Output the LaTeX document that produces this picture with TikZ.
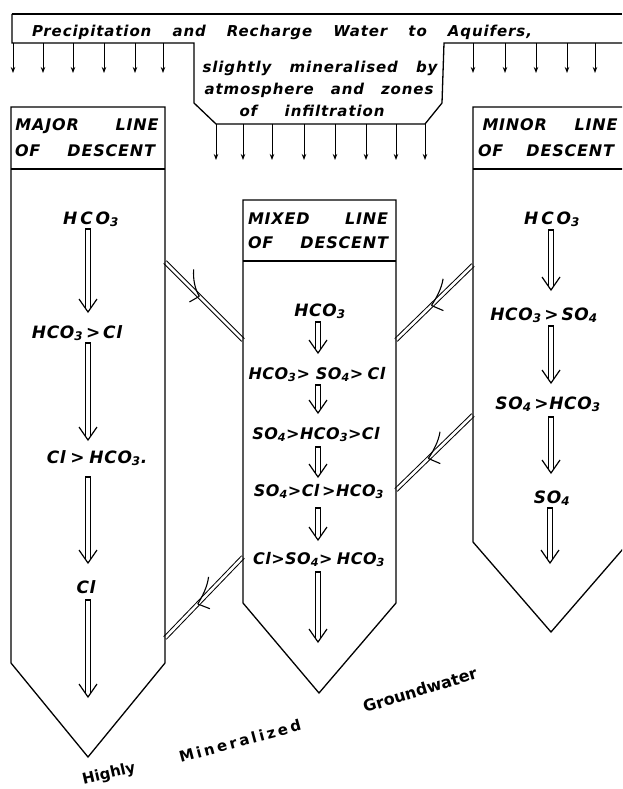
\documentclass[tikz,border=0pt]{standalone}
\usepackage{fontspec}
\setmainfont{DejaVu Sans}[ItalicFont={DejaVu Sans Oblique}]
\usetikzlibrary{arrows.meta,decorations.markings}
\newcommand\fsz[1]{\fontsize{#1}{#1}\selectfont}
\newcommand\lsp[1]{\addfontfeature{LetterSpace=#1}}
\newcommand\sbs[1]{\textsubscript{#1}}
\newcommand\openarr[3]{%
  \draw[oarr] (#1-2.6,#3-3.5) -- (#1-2.6,#2) -- (#1+2.6,#2) -- (#1+2.6,#3-3.5);
  \draw[oarr] (#1-9,#3-13) -- (#1,#3) -- (#1+9,#3-13);}
\tikzset{
  edge/.style={line width=1.3pt, line join=miter},
  sarr/.style={line width=1pt, -{Stealth[length=6pt,width=4.5pt]}},
  oarr/.style={line width=1.2pt, line join=miter},
  pipe/.style={line width=1pt, double, double distance=2.6pt},
  barbline/.style={line width=1.1pt},
  barbA/.style={decorate, decoration={markings, mark=at position #1 with {
      \draw[barbline] (0pt,0pt) .. controls (-8pt,2pt) and (-16pt,7pt) .. (-23pt,15pt);
      \draw[barbline] (0pt,0pt) .. controls (-1pt,-5pt) .. (-3pt,-11pt);}}},
  barbB/.style={decorate, decoration={markings, mark=at position #1 with {
      \draw[barbline] (0pt,0pt) .. controls (-9pt,-2pt) and (-19pt,-5pt) .. (-27pt,-11pt);
      \draw[barbline] (0pt,0pt) .. controls (-2pt,6pt) .. (-5pt,12pt);}}},
  txt/.style={inner sep=0pt, anchor=base, font=\bfseries\itshape\fsz{15}\lsp{6}},
  hdr/.style={inner sep=0pt, anchor=base, font=\bfseries\itshape\fsz{16}\lsp{5}},
  chem/.style={inner sep=0pt, anchor=base, font=\bfseries\itshape\fsz{17}\lsp{4}},
  chemm/.style={inner sep=0pt, anchor=base, font=\bfseries\itshape\fsz{16}\lsp{3}},
  bot/.style={inner sep=0pt, font=\bfseries\fsz{15}},
}
\begin{document}
\begin{tikzpicture}[x=1pt,y=-1pt]
\useasboundingbox (0,0) rectangle (622,789);
\clip (0,0) rectangle (622,789);
\fill[white] (0,0) rectangle (622,789);

% top recharge band
\draw[edge] (12,14) -- (622,14);
\draw[edge] (12,14) -- (12,43) -- (194,43) -- (194,103) -- (216,124) -- (425,124) -- (442,103) -- (444,43) -- (622,43);
\foreach \x in {13,43,73,104,135,163,473,505,536,567,595}
  \draw[sarr] (\x,43) -- (\x,73);
\foreach \x in {216,243,272,304,335,366,396,425}
  \draw[sarr] (\x,124) -- (\x,160);

\node[txt] (t1) at (282,37) {\makebox[500pt][s]{Precipitation and Recharge Water to Aquifers,}};
\node[txt] (t2) at (320,73) {\makebox[235pt][s]{slightly mineralised by}};
\node[txt] (t3) at (319,95) {\makebox[229pt][s]{atmosphere and zones}};
\node[txt] (t4) at (312,117) {\makebox[145pt][s]{of infiltration}};

% connector coordinates
\coordinate (ulA) at (165,262); \coordinate (ulB) at (243,340);
\coordinate (llA) at (243,557); \coordinate (llB) at (165,638);
\coordinate (urA) at (473,265); \coordinate (urB) at (396,340);
\coordinate (lrA) at (473,415); \coordinate (lrB) at (396,490);

\draw[pipe] (ulA) -- (ulB);
\draw[pipe] (llA) -- (llB);
\draw[pipe] (urA) -- (urB);
\draw[pipe] (lrA) -- (lrB);
\path[barbA=0.44] (ulA) -- (ulB);
\path[barbB=0.58] (llA) -- (llB);
\path[barbB=0.54] (urA) -- (urB);
\path[barbB=0.58] (lrA) -- (lrB);

% columns
\draw[edge] (11,107) -- (11,663) -- (88,757) -- (165,663) -- (165,107) -- cycle;
\draw[edge] (11,169) -- (165,169);
\draw[edge] (243,200) -- (243,603) -- (319,693) -- (396,603) -- (396,200) -- cycle;
\draw[edge] (243,261) -- (396,261);
\draw[edge] (473,107) -- (473,542) -- (551,632) -- (629,542) -- (629,107) -- cycle;
\draw[edge] (473,169) -- (629,169);

% headers
\node[hdr] (h1a) at (87,131) {\makebox[143pt][s]{MAJOR LINE}};
\node[hdr] (h1b) at (85,156) {\makebox[140pt][s]{OF DESCENT}};
\node[hdr] (h2a) at (318,224) {\makebox[140pt][s]{MIXED LINE}};
\node[hdr] (h2b) at (318,248) {\makebox[140pt][s]{OF DESCENT}};
\node[hdr] (h3a) at (550,131) {\makebox[135pt][s]{MINOR LINE}};
\node[hdr] (h3b) at (546,156) {\makebox[136pt][s]{OF DESCENT}};

% major line
\node[chem] (ma1) at (91,224) {H\,C\,O\sbs{3}};
\node[chem] (ma2) at (77,338) {HCO\sbs{3}\,>\,Cl};
\node[chem] (ma3) at (97,463) {Cl\;>\;HCO\sbs{3}.};
\node[chem] (ma4) at (86,593) {Cl};
\openarr{88}{229}{312}
\openarr{88}{343}{440}
\openarr{88}{477}{563}
\openarr{88}{600}{697}

% mixed line
\node[chem] (mx1) at (320,316) {HCO\sbs{3}};
\node[chemm] (mx2) at (317,379) {HCO\sbs{3}> SO\sbs{4}>\;Cl};
\node[chemm] (mx3) at (316,439) {SO\sbs{4}>HCO\sbs{3}>Cl};
\node[chemm] (mx4) at (319,496) {SO\sbs{4}>Cl\,>HCO\sbs{3}};
\node[chemm] (mx5) at (319,564) {Cl>SO\sbs{4}>\;HCO\sbs{3}};
\openarr{318}{322}{353}
\openarr{318}{385}{413}
\openarr{318}{447}{477}
\openarr{318}{508}{540}
\openarr{318}{572}{642}

% minor line
\node[chem] (mi1) at (552,224) {H\,C\,O\sbs{3}};
\node[chem] (mi2) at (544,320) {HCO\sbs{3}\,>\,SO\sbs{4}};
\node[chem] (mi3) at (548,409) {SO\sbs{4}\,>HCO\sbs{3}};
\node[chem] (mi4) at (552,503) {SO\sbs{4}};
\openarr{551}{230}{290}
\openarr{551}{326}{383}
\openarr{551}{417}{473}
\openarr{550}{508}{563}

% bottom label
\node[bot, rotate=13] (b1) at (109,774) {Highly};
\node[bot, rotate=15, font=\bfseries\fsz{15}\lsp{18}] (b2) at (240,741) {Mineralized};
\node[bot, rotate=17, font=\bfseries\fsz{16}] (b3) at (420,690) {Groundwater};
\end{tikzpicture}
\end{document}
